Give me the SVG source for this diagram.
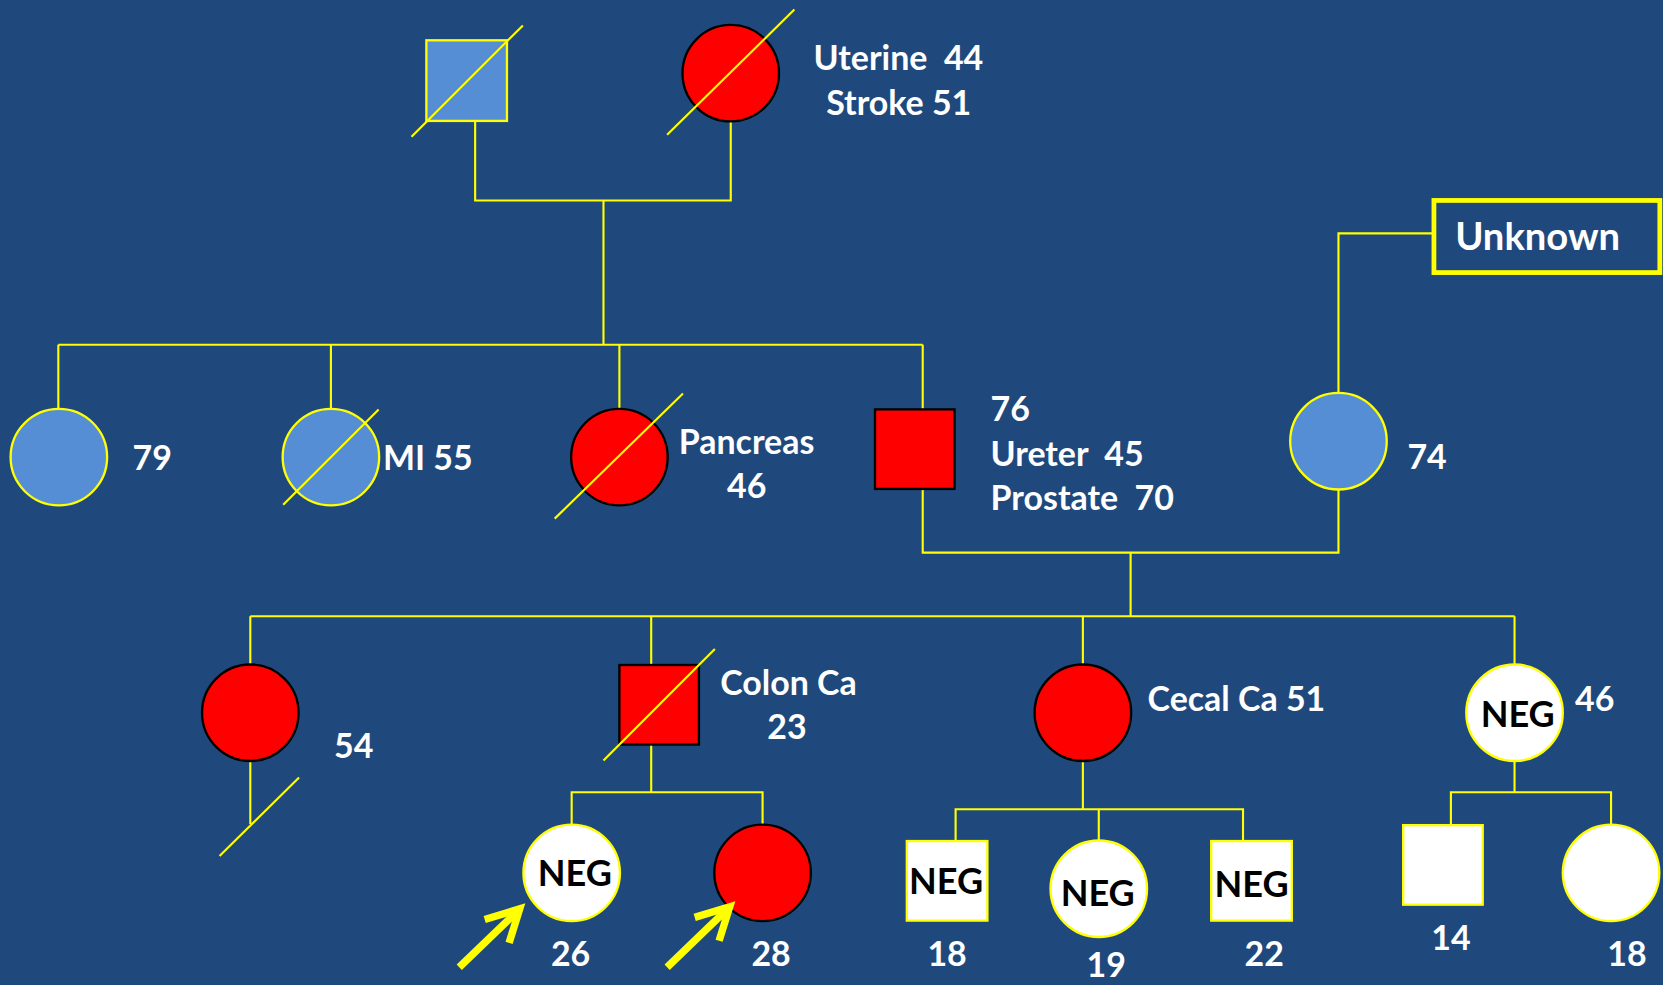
<svg xmlns="http://www.w3.org/2000/svg" width="1663" height="985" viewBox="0 0 1663 985">
<style>
.ln{stroke:#FFFF00;stroke-width:2;fill:none}
.bl{fill:#558ED5;stroke:#FFFF00;stroke-width:2.2}
.rd{fill:#FF0000;stroke:#000000;stroke-width:2.2}
.wh{fill:#FFFFFF;stroke:#FFFF00;stroke-width:2.2}
.sl{stroke:#FFFF00;stroke-width:2}
.t{font-family:Lato,"Open Sans","Liberation Sans",sans-serif;font-weight:bold;font-size:32px;fill:#FFFFFF}
.neg{font-family:Lato,"Open Sans","Liberation Sans",sans-serif;font-weight:bold;font-size:34px;fill:#000000;text-anchor:middle}
.m{text-anchor:middle}
.arr{stroke:#FFFF00;stroke-width:7;fill:none;stroke-linecap:butt;stroke-linejoin:miter}
</style>
<rect width="1663" height="985" fill="#1F497D"/>
<g transform="scale(1.0606)">
<g id="connectors">
<polyline class="ln" points="448,114 448,189 689,189 689,114"/>
<line class="ln" x1="569" y1="189" x2="569" y2="325"/>
<line class="ln" x1="55" y1="325" x2="870" y2="325"/>
<line class="ln" x1="55" y1="325" x2="55" y2="386"/>
<line class="ln" x1="312" y1="325" x2="312" y2="386"/>
<line class="ln" x1="584" y1="325" x2="584" y2="386"/>
<line class="ln" x1="870" y1="325" x2="870" y2="386"/>
<polyline class="ln" points="1262,371 1262,220 1352,220"/>
<polyline class="ln" points="870,461 870,521 1262,521 1262,461"/>
<line class="ln" x1="1066" y1="521" x2="1066" y2="581"/>
<line class="ln" x1="236" y1="581" x2="1428" y2="581"/>
<line class="ln" x1="236" y1="581" x2="236" y2="627"/>
<line class="ln" x1="614" y1="581" x2="614" y2="627"/>
<line class="ln" x1="1021" y1="581" x2="1021" y2="627"/>
<line class="ln" x1="1428" y1="581" x2="1428" y2="627"/>
<line class="ln" x1="236" y1="717" x2="236" y2="777"/>
<line class="sl" x1="207" y1="807" x2="282" y2="733"/>
<polyline class="ln" points="539,778 539,747 719,747 719,778"/>
<line class="ln" x1="614" y1="702" x2="614" y2="747"/>
<line class="ln" x1="1021" y1="717" x2="1021" y2="763"/>
<polyline class="ln" points="901,793 901,763 1172,763 1172,793"/>
<line class="ln" x1="1036" y1="763" x2="1036" y2="793"/>
<line class="ln" x1="1428" y1="717" x2="1428" y2="747"/>
<polyline class="ln" points="1368,778 1368,747 1519,747 1519,778"/>
</g>
<g id="grandfather">
<rect class="bl" x="402" y="38" width="76" height="76"/>
<line class="sl" x1="388" y1="129" x2="493" y2="24"/>
</g>
<g id="grandmother">
<circle class="rd" cx="689" cy="69" r="45.5"/>
<line class="sl" x1="629" y1="127" x2="749" y2="9"/>
<text class="t" x="767" y="66" xml:space="preserve">Uterine  44</text>
<text class="t" x="779" y="108">Stroke 51</text>
</g>
<g id="aunt79">
<circle class="bl" cx="55.5" cy="431" r="45.5"/>
<text class="t" x="125" y="443">79</text>
</g>
<g id="auntMI">
<circle class="bl" cx="312" cy="431" r="45.5"/>
<line class="sl" x1="267" y1="476" x2="357" y2="386"/>
<text class="t" x="361" y="443">MI 55</text>
</g>
<g id="auntPancreas">
<circle class="rd" cx="584" cy="431" r="45.5"/>
<line class="sl" x1="523" y1="489" x2="644" y2="371"/>
<text class="t" x="640" y="428">Pancreas</text>
<text class="t m" x="704" y="470">46</text>
</g>
<g id="father">
<rect class="rd" x="825" y="386" width="75" height="75"/>
<text class="t" x="934" y="397">76</text>
<text class="t" x="934" y="439" xml:space="preserve">Ureter  45</text>
<text class="t" x="934" y="481" xml:space="preserve">Prostate  70</text>
</g>
<g id="mother">
<circle class="bl" cx="1262" cy="416" r="45.5"/>
<text class="t" x="1327" y="442">74</text>
</g>
<g id="unknown">
<rect x="1352" y="189" width="213" height="68" fill="none" stroke="#FFFF00" stroke-width="4.5"/>
<text class="t" x="1372" y="236" style="font-size:36px">Unknown</text>
</g>
<g id="sister54">
<circle class="rd" cx="236" cy="672" r="45.5"/>
<text class="t" x="315" y="715">54</text>
</g>
<g id="brotherColon">
<rect class="rd" x="584" y="627" width="75" height="75"/>
<line class="sl" x1="569" y1="717" x2="674" y2="612"/>
<text class="t" x="679" y="655">Colon Ca</text>
<text class="t m" x="742" y="697">23</text>
</g>
<g id="sisterCecal">
<circle class="rd" cx="1021" cy="672" r="45.5"/>
<text class="t" x="1082" y="670">Cecal Ca 51</text>
</g>
<g id="sister46">
<circle class="wh" cx="1428" cy="672" r="45.5"/>
<text class="neg" x="1431" y="685">NEG</text>
<text class="t" x="1485" y="670">46</text>
</g>
<g id="proband26">
<circle class="wh" cx="539" cy="823" r="45.5"/>
<text class="neg" x="542" y="835">NEG</text>
<text class="t m" x="538" y="911">26</text>
<polyline class="arr" points="433,912 490,857"/>
<polyline class="arr" points="457,867 490,857 480,889"/>
</g>
<g id="proband28">
<circle class="rd" cx="719" cy="823" r="45.5"/>
<text class="t m" x="727" y="911">28</text>
<polyline class="arr" points="629,912 688,855"/>
<polyline class="arr" points="655,865 688,855 678,887"/>
</g>
<g id="son18">
<rect class="wh" x="855" y="793" width="76" height="75"/>
<text class="neg" x="892" y="843">NEG</text>
<text class="t m" x="893" y="911">18</text>
</g>
<g id="daughter19">
<circle class="wh" cx="1036" cy="838" r="45.5"/>
<text class="neg" x="1035" y="854">NEG</text>
<text class="t m" x="1043" y="921">19</text>
</g>
<g id="son22">
<rect class="wh" x="1142" y="793" width="76" height="75"/>
<text class="neg" x="1180" y="846">NEG</text>
<text class="t m" x="1192" y="911">22</text>
</g>
<g id="son14">
<rect class="wh" x="1323" y="778" width="75" height="75"/>
<text class="t m" x="1368" y="896">14</text>
</g>
<g id="daughter18">
<circle class="wh" cx="1519" cy="823" r="45.5"/>
<text class="t m" x="1534" y="911">18</text>
</g>
</g>
</svg>
